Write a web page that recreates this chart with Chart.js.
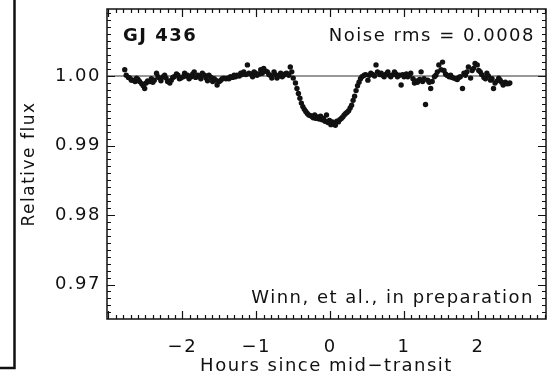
<!DOCTYPE html>
<html>
<head>
<meta charset="utf-8">
<script src="https://cdn.jsdelivr.net/npm/chart.js@4"></script>
<style>
  html, body { margin: 0; padding: 0; background: #fff; }
  #wrap { width: 550px; height: 381px; position: relative; }
</style>
</head>
<body>
<div id="wrap"><canvas id="transitChart" width="550" height="381"></canvas></div>
<script>
// GJ 436 light curve, hours from mid-transit vs. relative flux
const hours = [
	-2.78, -2.76, -2.73, -2.71, -2.69, -2.67, -2.64, -2.62, -2.60, -2.58,
	-2.55, -2.53, -2.51, -2.49, -2.47, -2.44, -2.42, -2.40, -2.38, -2.35,
	-2.33, -2.31, -2.29, -2.26, -2.24, -2.22, -2.20, -2.17, -2.15, -2.13,
	-2.11, -2.08, -2.06, -2.04, -2.02, -1.99, -1.97, -1.95, -1.93, -1.91,
	-1.88, -1.86, -1.84, -1.82, -1.79, -1.77, -1.75, -1.73, -1.70, -1.68,
	-1.66, -1.64, -1.61, -1.59, -1.57, -1.55, -1.53, -1.50, -1.48, -1.46,
	-1.44, -1.41, -1.39, -1.37, -1.35, -1.32, -1.30, -1.28, -1.26, -1.23,
	-1.21, -1.19, -1.17, -1.14, -1.12, -1.10, -1.08, -1.05, -1.03, -1.01,
	-0.99, -0.96, -0.94, -0.92, -0.90, -0.87, -0.85, -0.83, -0.81, -0.79,
	-0.76, -0.74, -0.72, -0.70, -0.67, -0.65, -0.63, -0.61, -0.59, -0.56,
	-0.54, -0.52, -0.50, -0.47, -0.45, -0.43, -0.41, -0.39, -0.37, -0.35,
	-0.33, -0.31, -0.29, -0.27, -0.25, -0.23, -0.21, -0.19, -0.17, -0.15,
	-0.13, -0.11, -0.09, -0.07, -0.05, -0.03, -0.01, 0.01, 0.03, 0.05,
	0.07, 0.09, 0.11, 0.13, 0.15, 0.17, 0.19, 0.21, 0.23, 0.25,
	0.27, 0.29, 0.31, 0.33, 0.35, 0.37, 0.39, 0.41, 0.43, 0.46,
	0.48, 0.51, 0.53, 0.55, 0.58, 0.60, 0.62, 0.64, 0.67, 0.69,
	0.71, 0.73, 0.76, 0.78, 0.80, 0.82, 0.85, 0.87, 0.89, 0.91,
	0.94, 0.96, 0.98, 1.00, 1.03, 1.05, 1.07, 1.09, 1.12, 1.14,
	1.16, 1.18, 1.21, 1.23, 1.25, 1.27, 1.29, 1.32, 1.34, 1.36,
	1.38, 1.41, 1.43, 1.45, 1.47, 1.50, 1.52, 1.54, 1.56, 1.58,
	1.61, 1.63, 1.65, 1.67, 1.70, 1.72, 1.74, 1.76, 1.79, 1.81,
	1.83, 1.85, 1.87, 1.90, 1.92, 1.94, 1.96, 1.99, 2.01, 2.03,
	2.05, 2.08, 2.10, 2.12, 2.14, 2.17, 2.19, 2.21, 2.23, 2.26,
	2.28, 2.30, 2.32, 2.34, 2.37, 2.39, 2.41, 2.43
];
const flux = [
	1.0009, 1.0001, 0.9998, 0.9997, 0.9994, 0.9994, 0.9992, 0.9997, 0.9995, 0.9992,
	0.9989, 0.9986, 0.9982, 0.9990, 0.9993, 0.9992, 0.9996, 0.9991, 0.9994, 1.0004,
	0.9999, 0.9997, 0.9993, 0.9999, 1.0001, 0.9997, 0.9992, 0.9990, 0.9994, 0.9998,
	0.9999, 1.0003, 1.0001, 0.9996, 0.9997, 0.9999, 1.0004, 1.0000, 1.0001, 0.9996,
	0.9999, 1.0003, 1.0006, 0.9998, 1.0001, 0.9999, 0.9996, 1.0004, 1.0001, 0.9997,
	0.9993, 1.0001, 0.9998, 0.9992, 0.9996, 0.9994, 0.9987, 0.9992, 0.9994, 0.9996,
	0.9997, 0.9996, 0.9997, 0.9996, 0.9999, 0.9998, 1.0001, 0.9999, 1.0001, 1.0000,
	1.0004, 1.0002, 1.0006, 1.0002, 1.0016, 1.0004, 1.0003, 0.9999, 1.0006, 1.0004,
	1.0001, 1.0003, 1.0009, 1.0004, 1.0011, 1.0007, 1.0006, 1.0002, 1.0001, 0.9997,
	1.0006, 1.0002, 0.9997, 1.0000, 1.0004, 0.9999, 1.0001, 1.0003, 1.0004, 1.0001,
	1.0013, 1.0006, 0.9997, 0.9990, 0.9982, 0.9975, 0.9968, 0.9961, 0.9956, 0.9952,
	0.9949, 0.9946, 0.9944, 0.9943, 0.9942, 0.9940, 0.9944, 0.9939, 0.9941, 0.9938,
	0.9942, 0.9937, 0.9939, 0.9935, 0.9944, 0.9933, 0.9936, 0.9930, 0.9934, 0.9932,
	0.9929, 0.9935, 0.9934, 0.9937, 0.9939, 0.9941, 0.9944, 0.9946, 0.9948, 0.9950,
	0.9954, 0.9958, 0.9965, 0.9971, 0.9979, 0.9986, 0.9991, 0.9996, 0.9999, 1.0001,
	1.0002, 0.9994, 1.0001, 1.0004, 1.0002, 1.0000, 1.0016, 1.0006, 1.0002, 1.0004,
	1.0001, 0.9999, 1.0003, 1.0006, 1.0001, 0.9999, 1.0002, 1.0006, 1.0003, 0.9999,
	1.0001, 0.9987, 1.0002, 0.9999, 1.0003, 0.9999, 1.0001, 1.0004, 0.9996, 0.9990,
	0.9993, 0.9991, 0.9995, 1.0006, 0.9992, 0.9996, 0.9959, 0.9994, 0.9991, 0.9982,
	0.9992, 0.9999, 1.0001, 1.0006, 1.0016, 1.0009, 1.0020, 1.0008, 1.0003, 1.0001,
	0.9999, 1.0001, 0.9998, 0.9997, 0.9996, 0.9995, 0.9998, 0.9999, 0.9982, 1.0004,
	1.0001, 1.0006, 1.0013, 0.9997, 1.0008, 1.0011, 1.0018, 1.0016, 1.0008, 1.0006,
	1.0002, 0.9998, 0.9996, 1.0004, 1.0000, 0.9994, 0.9996, 0.9982, 0.9990, 0.9993,
	0.9997, 0.9994, 0.9991, 0.9987, 0.9991, 0.9989, 0.9989, 0.9990
];

const xRange = [-3.02, 2.92];
const yRange = [0.96504, 1.00964];
const xTickValues = [-2, -1, 0, 1, 2];
const yTickValues = [0.97, 0.98, 0.99, 1.00];
const baseline = 1.0;

const starLabel = "GJ 436";
const noiseLabel = "Noise rms = 0.0008";
const creditLabel = "Winn, et al., in preparation";

const FONT = "'DejaVu Sans', sans-serif";
const INK = "#111";

const points = hours.map((h, i) => ({x: h, y: flux[i]}));

// ticks on all four sides (pointing inward), frame, labels in the box
const frameTicks = {
	id: "frameTicks",
	beforeLayout: chart => { chart.ctx.letterSpacing = "1.5px"; },
	beforeDraw: chart => { chart.ctx.letterSpacing = "1.5px"; },
	afterDraw: chart => {
		const {ctx, chartArea: a, scales: {x, y}} = chart;
		ctx.save();
		ctx.strokeStyle = INK;
		ctx.lineWidth = 1.5;
		ctx.strokeRect(a.left, a.top, a.right - a.left, a.bottom - a.top);

		ctx.beginPath();
		for (let i = Math.ceil(x.min * 10); i <= Math.floor(x.max * 10); i++) {
			const px = Math.round(x.getPixelForValue(i / 10)) + 0.5;
			const len = i % 10 === 0 ? 8 : 4;
			ctx.moveTo(px, a.bottom); ctx.lineTo(px, a.bottom - len);
			ctx.moveTo(px, a.top); ctx.lineTo(px, a.top + len);
		}
		for (let i = Math.ceil(y.min * 1000); i <= Math.floor(y.max * 1000); i++) {
			const py = Math.round(y.getPixelForValue(i / 1000)) + 0.5;
			const len = i % 10 === 0 ? 8 : 4;
			ctx.moveTo(a.left, py); ctx.lineTo(a.left + len, py);
			ctx.moveTo(a.right, py); ctx.lineTo(a.right - len, py);
		}
		ctx.lineWidth = 1.2;
		ctx.stroke();

		// edge of the neighbouring panel
		ctx.beginPath();
		ctx.lineWidth = 2.5;
		ctx.moveTo(14.5, 0); ctx.lineTo(14.5, 368); ctx.lineTo(0, 368);
		ctx.stroke();

		ctx.fillStyle = INK;
		ctx.letterSpacing = "1.5px";
		ctx.textBaseline = "alphabetic";
		ctx.font = "bold 18px " + FONT;
		ctx.textAlign = "left";
		ctx.fillText(starLabel, a.left + 16, a.top + 32);
		ctx.font = "18px " + FONT;
		ctx.textAlign = "right";
		ctx.fillText(noiseLabel, a.right - 11, a.top + 32);
		ctx.fillText(creditLabel, a.right - 12, a.bottom - 16);
		ctx.restore();
	}
};

new Chart(document.getElementById("transitChart"), {
	type: "scatter",
	data: {
		datasets: [{
			label: "flux",
			data: points,
			pointRadius: 2.7,
			pointBackgroundColor: INK,
			pointBorderWidth: 0,
			order: 1
		}, {
			label: "baseline",
			data: [{x: xRange[0], y: baseline}, {x: xRange[1], y: baseline}],
			showLine: true,
			borderColor: "#333",
			borderWidth: 1.2,
			pointRadius: 0,
			order: 2
		}]
	},
	options: {
		responsive: false,
		animation: false,
		layout: {padding: {left: 0, right: 2, top: 9, bottom: 0}},
		plugins: {
			legend: {display: false},
			tooltip: {enabled: false}
		},
		scales: {
			x: {
				type: "linear",
				min: xRange[0],
				max: xRange[1],
				afterBuildTicks: scale => { scale.ticks = xTickValues.map(value => ({value})); },
				afterFit: scale => {
					scale.height = 62;
					scale.paddingLeft = 0;
					scale.paddingRight = 0;
				},
				grid: {display: false, drawTicks: false},
				border: {display: false},
				ticks: {
					padding: 18,
					color: INK,
					font: {family: FONT, size: 18},
					callback: v => v < 0 ? "\u2212" + Math.abs(v) : String(v)
				},
				title: {
					display: true,
					text: "Hours since mid\u2212transit",
					color: INK,
					font: {family: FONT, size: 18},
					padding: {top: 0, bottom: 4}
				}
			},
			y: {
				type: "linear",
				min: yRange[0],
				max: yRange[1],
				afterBuildTicks: scale => { scale.ticks = yTickValues.map(value => ({value})); },
				afterFit: scale => {
					scale.width = 107;
					scale.paddingTop = 0;
					scale.paddingBottom = 0;
				},
				grid: {display: false, drawTicks: false},
				border: {display: false},
				ticks: {
					padding: 6,
					color: INK,
					font: {family: FONT, size: 18},
					callback: v => v.toFixed(2)
				},
				title: {
					display: true,
					text: "Relative flux",
					color: INK,
					font: {family: FONT, size: 17},
					padding: {top: 19, bottom: 0}
				}
			}
		}
	},
	plugins: [frameTicks]
});
</script>
</body>
</html>
